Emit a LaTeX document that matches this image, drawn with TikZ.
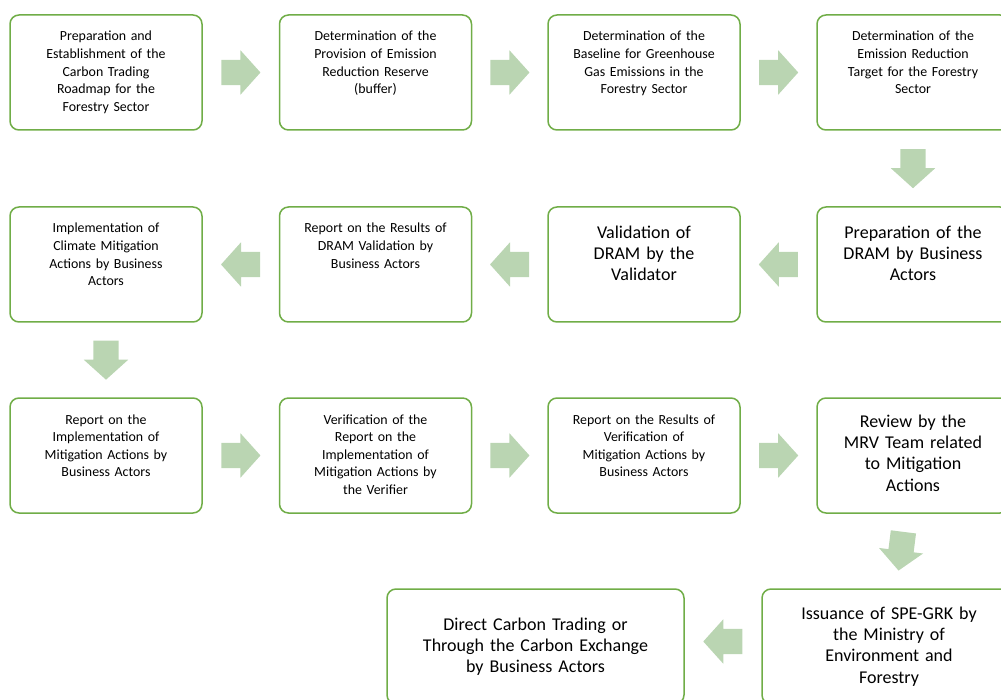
\documentclass[tikz,border=0pt]{standalone}
\usepackage{fontspec}
\setmainfont{Carlito}
\usepackage{tikz}
\usetikzlibrary{shapes.arrows}

\definecolor{stagegreen}{RGB}{112,173,71}
\definecolor{flowgreen}{RGB}{186,213,178}

\begin{document}
\begin{tikzpicture}[
  x=1pt, y=-1pt,
  stage/.style={draw=stagegreen, line width=1.5pt, rounded corners=9pt, fill=white, align=center, text width=180pt, inner xsep=6pt, inner ysep=0pt, font=\fontsize{13.9}{17.6}\selectfont},
  bigtext/.style={font=\fontsize{18}{21.2}\selectfont},
  flow/.style={single arrow, fill=flowgreen, draw=none, inner xsep=0pt, inner ysep=12.5pt, minimum height=39pt, single arrow head extend=9.5pt, single arrow tip angle=96, xshift=-5.5pt}
]
\useasboundingbox (0,0) rectangle (1001,700);
\clip (0,0) rectangle (1001,700);

% Nodes
\node[stage, text height=26pt, text depth=89pt] (prep) at (106,72.5) {Preparation and\\Establishment of the\\Carbon Trading\\Roadmap for the\\Forestry Sector};
\node[stage, text height=26pt, text depth=89pt] (buffer) at (375.5,72.5) {Determination of the\\Provision of Emission\\Reduction Reserve\\(buffer)};
\node[stage, text height=26pt, text depth=89pt] (baseline) at (644,72.5) {Determination of the\\Baseline for Greenhouse\\Gas Emissions in the\\Forestry Sector};
\node[stage, text height=26pt, text depth=89pt] (target) at (913,72.5) {Determination of the\\Emission Reduction\\Target for the Forestry\\Sector};

\node[stage, bigtext, text height=31.5pt, text depth=83.5pt] (dram) at (913,264.5) {Preparation of the\\DRAM by Business\\Actors};
\node[stage, bigtext, text height=31.5pt, text depth=83.5pt] (validation) at (644,264.5) {Validation of\\DRAM by the\\Validator};
\node[stage, text height=26pt, text depth=89pt] (valreport) at (375.5,264.5) {Report on the Results of\\DRAM Validation by\\Business Actors};
\node[stage, text height=26pt, text depth=89pt] (implement) at (106,264.5) {Implementation of\\Climate Mitigation\\Actions by Business\\Actors};

\node[stage, text height=26pt, text depth=89pt] (implreport) at (106,455.5) {Report on the\\Implementation of\\Mitigation Actions by\\Business Actors};
\node[stage, text height=26pt, text depth=89pt] (verify) at (375.5,455.5) {Verification of the\\Report on the\\Implementation of\\Mitigation Actions by\\the Verifier};
\node[stage, text height=26pt, text depth=89pt] (verreport) at (644,455.5) {Report on the Results of\\Verification of\\Mitigation Actions by\\Business Actors};
\node[stage, bigtext, text height=29.5pt, text depth=85.5pt] (review) at (913,455.5) {Review by the\\MRV Team related\\to Mitigation\\Actions};

\node[stage, bigtext, text width=242pt, text height=30.5pt, text depth=84.5pt] (issuance) at (889,646.5) {Issuance of SPE-GRK by\\the Ministry of\\Environment and\\Forestry};
\node[stage, bigtext, text width=285pt, text height=41.5pt, text depth=73.5pt] (trading) at (535.5,646.5) {Direct Carbon Trading or\\Through the Carbon Exchange\\by Business Actors};

% Block arrows between the stages
\path (prep) -- (buffer) node[flow, midway, sloped, allow upside down] {};
\path (buffer) -- (baseline) node[flow, midway, sloped, allow upside down] {};
\path (baseline) -- (target) node[flow, midway, sloped, allow upside down] {};
\path (target) -- (dram) node[flow, midway, sloped, allow upside down] {};
\path (dram) -- (validation) node[flow, midway, sloped, allow upside down] {};
\path (validation) -- (valreport) node[flow, midway, sloped, allow upside down] {};
\path (valreport) -- (implement) node[flow, midway, sloped, allow upside down] {};
\path (implement) -- (implreport) node[flow, midway, sloped, allow upside down] {};
\path (implreport) -- (verify) node[flow, midway, sloped, allow upside down] {};
\path (verify) -- (verreport) node[flow, midway, sloped, allow upside down] {};
\path (verreport) -- (review) node[flow, midway, sloped, allow upside down] {};
\path (review) -- (issuance) node[flow, midway, sloped, allow upside down] {};
\path (issuance) -- (trading) node[flow, midway, sloped, allow upside down, yshift=-5pt] {};

\end{tikzpicture}
\end{document}
